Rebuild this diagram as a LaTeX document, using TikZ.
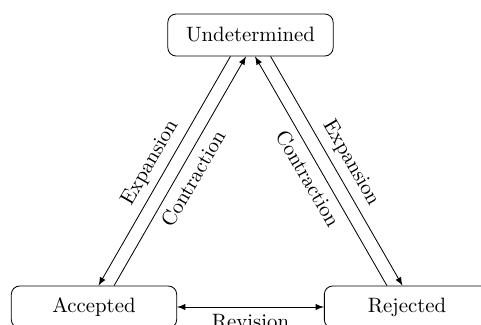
\documentclass[tikz,border=0pt]{standalone}
\begin{document}
\begin{tikzpicture}[x=0.4808pt,y=-0.4808pt,
  state/.style={draw, rounded corners=4pt, minimum width=79.5pt, minimum height=20.2pt, inner sep=0pt},
  link/.style={-latex}]
\clip (0,0) rectangle (481,324);
\node[state] (U) at (250.5,35) {Undetermined};
\node[state] (A) at (94,307) {Accepted};
\node[state] (R) at (407,307) {Rejected};
% left pair of transitions
\draw[link, transform canvas={xshift=-3.75pt}] (U) -- node[midway, sloped, above] {Expansion} (A);
\draw[link, transform canvas={xshift=3.75pt}] (A) -- node[midway, sloped, below] {Contraction} (U);
% right pair of transitions
\draw[link, transform canvas={xshift=3.75pt}] (U) -- node[midway, sloped, above] {Expansion} (R);
\draw[link, transform canvas={xshift=-3.75pt}] (R) -- node[midway, sloped, below] {Contraction} (U);
% bottom
\draw[latex-latex] (A) -- node[below] {Revision} (R);
\end{tikzpicture}
\end{document}
